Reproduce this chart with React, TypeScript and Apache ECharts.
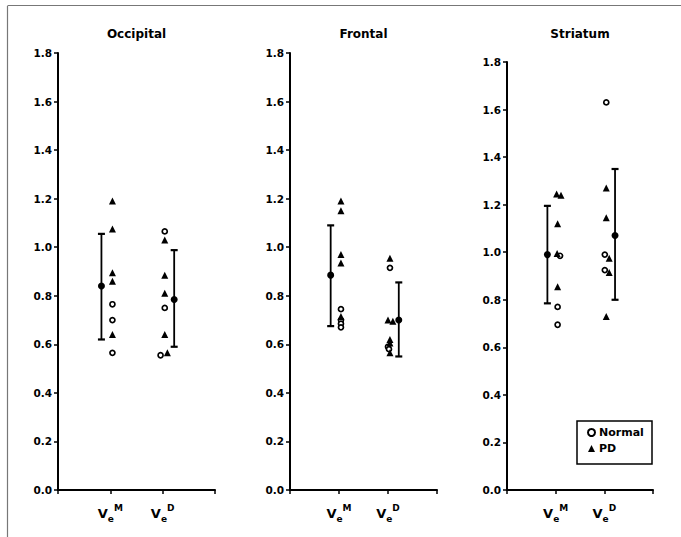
import React, { useEffect, useRef } from "react";
import * as echarts from "echarts";

// ---- data ----
const regions = ["Occipital", "Frontal", "Striatum"];
const groupLabels = ["M", "D"]; // V_e^M, V_e^D

// Occipital
const occNormalM = [0.765, 0.70, 0.565];
const occPdM = [1.19, 1.075, 0.895, 0.86, 0.64];
const occNormalD = [1.065, 0.75, 0.555];
const occPdD = [1.03, 0.885, 0.81, 0.64, 0.565];
const occMean = [0.84, 0.785];
const occLow = [0.62, 0.59];
const occHigh = [1.055, 0.988];

// Frontal
const froNormalM = [0.745, 0.70, 0.685, 0.67];
const froPdM = [1.19, 1.15, 0.97, 0.935, 0.715];
const froNormalD = [0.915, 0.59, 0.58];
const froPdD = [0.955, 0.70, 0.695, 0.62, 0.605, 0.565];
const froMean = [0.885, 0.70];
const froLow = [0.675, 0.55];
const froHigh = [1.09, 0.855];

// Striatum
const strNormalM = [0.985, 0.77, 0.695];
const strPdM = [1.245, 1.24, 1.12, 0.995, 0.855];
const strNormalD = [1.63, 0.99, 0.925];
const strPdD = [1.27, 1.145, 0.975, 0.915, 0.73];
const strMean = [0.99, 1.07];
const strLow = [0.785, 0.80];
const strHigh = [1.195, 1.35];

// small horizontal jitter (x-axis units) to separate overlapping points
const occNormalMJ = [0, 0, 0];
const occPdMJ = [0, 0, 0, 0, 0];
const occNormalDJ = [0, 0, -0.08];
const occPdDJ = [0, 0, 0, 0, 0.05];
const froNormalMJ = [0, 0, 0, 0];
const froPdMJ = [0, 0, 0, 0, 0];
const froNormalDJ = [0, -0.04, -0.02];
const froPdDJ = [0, -0.04, 0.06, 0, 0, 0];
const strNormalMJ = [0.05, 0, 0];
const strPdMJ = [-0.02, 0.07, 0, -0.01, 0];
const strNormalDJ = [0, -0.03, -0.03];
const strPdDJ = [0, 0, 0.06, 0.06, 0];

const yTicks = { min: 0, max: 1.8, step: 0.2 };

const panelData = [
  { normal: [occNormalM, occNormalD], pd: [occPdM, occPdD], nj: [occNormalMJ, occNormalDJ], pj: [occPdMJ, occPdDJ], mean: occMean, low: occLow, high: occHigh },
  { normal: [froNormalM, froNormalD], pd: [froPdM, froPdD], nj: [froNormalMJ, froNormalDJ], pj: [froPdMJ, froPdDJ], mean: froMean, low: froLow, high: froHigh },
  { normal: [strNormalM, strNormalD], pd: [strPdM, strPdD], nj: [strNormalMJ, strNormalDJ], pj: [strPdMJ, strPdDJ], mean: strMean, low: strLow, high: strHigh },
];

// ---- layout ----
const grids = [
  { left: 58, top: 53, width: 157, height: 437 },
  { left: 290, top: 53, width: 147, height: 437 },
  { left: 507, top: 62, width: 146, height: 428 },
];
const POINT_OFFSET = 0.04;
const ERR_OFFSET = [-0.17, 0.22];
const FONT = '"DejaVu Sans", Verdana, sans-serif';

export default function App() {
  const ref = useRef<HTMLDivElement>(null);
  useEffect(() => {
    if (!ref.current) return;
    const chart = echarts.init(ref.current, undefined, { renderer: "svg" });

    const series: any[] = [];
    panelData.forEach((p, i) => {
      const normalPts: number[][] = [];
      const pdPts: number[][] = [];
      const errPts: number[][] = [];
      const meanPts: number[][] = [];
      [0, 1].forEach((g) => {
        p.normal[g].forEach((v, k) => normalPts.push([g + 1 + POINT_OFFSET + p.nj[g][k], v]));
        p.pd[g].forEach((v, k) => pdPts.push([g + 1 + POINT_OFFSET + p.pj[g][k], v]));
        errPts.push([g + 1 + ERR_OFFSET[g], p.low[g], p.high[g]]);
        meanPts.push([g + 1 + ERR_OFFSET[g], p.mean[g]]);
      });
      series.push({
        name: "Normal",
        type: "scatter",
        xAxisIndex: i,
        yAxisIndex: i,
        symbol: "circle",
        symbolSize: 5,
        itemStyle: { color: "#fff", borderColor: "#000", borderWidth: 1.7, opacity: 1 },
        data: normalPts,
        z: 3,
      });
      series.push({
        name: "PD",
        type: "scatter",
        xAxisIndex: i,
        yAxisIndex: i,
        symbol: "triangle",
        symbolSize: 7,
        itemStyle: { color: "#000", opacity: 1 },
        data: pdPts,
        z: 4,
      });
      series.push({
        name: "err" + i,
        type: "custom",
        xAxisIndex: i,
        yAxisIndex: i,
        encode: { x: 0, y: [1, 2] },
        data: errPts,
        renderItem: (params: any, api: any) => {
          const x = api.value(0);
          const lo = api.coord([x, api.value(1)]);
          const hi = api.coord([x, api.value(2)]);
          const cap = 3.5;
          const st = { stroke: "#000", lineWidth: 1.8 };
          return {
            type: "group",
            children: [
              { type: "line", shape: { x1: lo[0], y1: lo[1], x2: hi[0], y2: hi[1] }, style: st },
              { type: "line", shape: { x1: lo[0] - cap, y1: lo[1], x2: lo[0] + cap, y2: lo[1] }, style: { stroke: "#000", lineWidth: 2.2 } },
              { type: "line", shape: { x1: hi[0] - cap, y1: hi[1], x2: hi[0] + cap, y2: hi[1] }, style: { stroke: "#000", lineWidth: 2.2 } },
            ],
          };
        },
        z: 2,
      });
      series.push({
        name: "mean" + i,
        type: "scatter",
        xAxisIndex: i,
        yAxisIndex: i,
        symbol: "circle",
        symbolSize: 7,
        itemStyle: { color: "#000", opacity: 1 },
        data: meanPts,
        z: 5,
      });
    });

    const axisLine = { show: true, onZero: false, lineStyle: { color: "#000", width: 2 } };

    const option: any = {
      animation: false,
      backgroundColor: "#fff",
      grid: grids.map((g) => ({ ...g, containLabel: false })),
      xAxis: grids.map((_, i) => ({
        type: "value",
        gridIndex: i,
        min: 0,
        max: 3,
        interval: 1,
        axisLine,
        axisTick: { show: true, length: 4, lineStyle: { color: "#000", width: 1.5 } },
        splitLine: { show: false },
        axisLabel: {
          margin: 13,
          formatter: (v: number) =>
            v === 1 || v === 2 ? `{v|V}{e|e}{s|${groupLabels[v - 1]}}` : "",
          rich: {
            v: { fontSize: 13, fontWeight: "bold", fontFamily: FONT, color: "#000", verticalAlign: "middle", lineHeight: 20 },
            e: { fontSize: 9, fontWeight: "bold", fontFamily: FONT, color: "#000", verticalAlign: "bottom", lineHeight: 20 },
            s: { fontSize: 9, fontWeight: "bold", fontFamily: FONT, color: "#000", verticalAlign: "top", lineHeight: 20 },
          },
        },
      })),
      yAxis: grids.map((_, i) => ({
        type: "value",
        gridIndex: i,
        min: yTicks.min,
        max: yTicks.max,
        interval: yTicks.step,
        axisLine,
        axisTick: { show: true, length: 4, lineStyle: { color: "#000", width: 1.5 } },
        splitLine: { show: false },
        axisLabel: {
          margin: 6,
          color: "#000",
          fontSize: 10.5,
          fontWeight: "bold",
          fontFamily: FONT,
          formatter: (v: number) => v.toFixed(1),
        },
      })),
      legend: {
        data: ["Normal", "PD"],
        orient: "vertical",
        left: 587,
        top: 427,
        itemWidth: 7,
        itemHeight: 7,
        itemGap: 5,
        padding: 0,
        selectedMode: false,
        textStyle: { fontSize: 11, fontWeight: "bold", fontFamily: FONT, color: "#000", padding: [0, 0, 0, -1] },
      },
      graphic: [
        ...regions.map((r, i) => ({
          type: "text",
          x: grids[i].left + grids[i].width / 2,
          y: 34,
          style: {
            text: r,
            fill: "#000",
            font: `bold 12px ${FONT}`,
            textAlign: "center",
            textVerticalAlign: "middle",
          },
        })),
        {
          type: "rect",
          shape: { x: 577, y: 421, width: 75, height: 43 },
          style: { fill: "none", stroke: "#000", lineWidth: 1.5 },
        },
        {
          type: "line",
          shape: { x1: 7.5, y1: 6, x2: 7.5, y2: 537 },
          style: { stroke: "#777", lineWidth: 1.2 },
        },
        {
          type: "line",
          shape: { x1: 7.5, y1: 5.5, x2: 681, y2: 5.5 },
          style: { stroke: "#777", lineWidth: 1.2 },
        },
      ],
      series,
    };
    chart.setOption(option);
    return () => chart.dispose();
  }, []);
  return (
    <div
      ref={ref}
      style={{ position: "fixed", left: 0, top: 0, width: 681, height: 537, background: "#fff" }}
    />
  );
}
